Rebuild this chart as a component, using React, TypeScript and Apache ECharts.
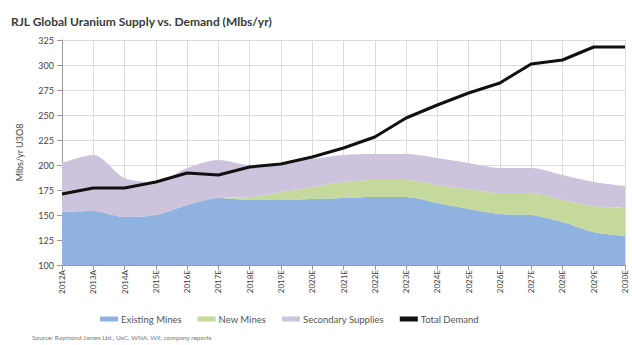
import React, { useEffect, useRef } from "react";
import * as echarts from "echarts";

const categories = [
  "2012A", "2013A", "2014A", "2015E", "2016E", "2017E", "2018E", "2019E", "2020E", "2021E",
  "2022E", "2023E", "2024E", "2025E", "2026E", "2027E", "2028E", "2029E", "2030E",
];
const existingMines = [153, 154, 148, 150, 160, 167, 165, 165, 166, 167, 168, 168, 162, 156, 151, 150, 143, 133, 129];
const newMines = [0, 0, 0, 0, 0, 0, 3, 8, 12, 16, 17, 17, 18, 20, 21, 22, 22, 26, 28];
const secondarySupplies = [49, 56, 39, 33, 37, 38, 32, 29, 28, 27, 26, 26, 27, 26, 25, 25, 25, 24, 22];
const totalDemand = [171, 177, 177, 183, 192, 190, 198, 201, 208, 217, 228, 247, 260, 272, 282, 301, 305, 318, 318];

const FONT = "Lato, 'Open Sans', sans-serif";

export default function App() {
  const ref = useRef<HTMLDivElement>(null);
  useEffect(() => {
    if (!ref.current) return;
    const chart = echarts.init(ref.current, null, { renderer: "svg" });
    const areaSeries = (name: string, data: number[], color: string) => ({
      name,
      type: "line",
      stack: "supply",
      data,
      smooth: 0.3,
      showSymbol: false,
      symbol: "none",
      lineStyle: { width: 0, color },
      itemStyle: { color },
      areaStyle: { color, opacity: 1 },
    });
    chart.setOption({
      animation: false,
      textStyle: { fontFamily: FONT },
      title: {
        text: "RJL Global Uranium Supply vs. Demand (Mlbs/yr)",
        left: 6,
        top: 10,
        textStyle: { fontSize: 12, fontWeight: "bold", color: "#3a3a3a", fontFamily: FONT },
      },
      grid: { left: 62, right: 7, top: 40, bottom: 80 },
      legend: {
        top: 309,
        left: 95,
        itemWidth: 18,
        itemHeight: 5,
        itemGap: 16,
        icon: "rect",
        textStyle: { fontSize: 9.5, color: "#555", fontFamily: FONT, padding: [0, 0, 0, -2] },
        data: ["Existing Mines", "New Mines", "Secondary Supplies", "Total Demand"],
      },
      xAxis: {
        type: "category",
        data: categories,
        boundaryGap: false,
        axisLine: { lineStyle: { color: "#999" } },
        axisTick: { show: true, lineStyle: { color: "#999" } },
        splitLine: { show: true, lineStyle: { color: "#dcdcdc" } },
        axisLabel: { rotate: 90, fontSize: 8, color: "#444", fontFamily: FONT, margin: 5 },
      },
      yAxis: {
        type: "value",
        min: 100,
        max: 325,
        interval: 25,
        name: "Mlbs/yr U3O8",
        nameLocation: "middle",
        nameGap: 38,
        nameTextStyle: { fontSize: 9, color: "#444", fontFamily: FONT },
        axisLine: { show: true, lineStyle: { color: "#999" } },
        axisTick: { show: true, lineStyle: { color: "#999" } },
        splitLine: { show: true, lineStyle: { color: "#dcdcdc" } },
        axisLabel: { fontSize: 9, color: "#444", fontFamily: FONT },
      },
      series: [
        areaSeries("Existing Mines", existingMines, "#8fb2e0"),
        areaSeries("New Mines", newMines, "#c5d99c"),
        areaSeries("Secondary Supplies", secondarySupplies, "#cdc3dd"),
        {
          name: "Total Demand",
          type: "line",
          data: totalDemand,
          showSymbol: false,
          symbol: "none",
          lineStyle: { width: 3, color: "#111" },
          itemStyle: { color: "#111" },
          z: 5,
        },
      ],
      graphic: [
        {
          type: "text",
          left: 32,
          top: 334,
          style: {
            text: "Source: Raymond James Ltd., UxC, WNA, WII, company reports",
            fontSize: 6.5,
            fill: "#777",
            fontFamily: FONT,
          },
        },
      ],
    });
    return () => chart.dispose();
  }, []);
  return <div ref={ref} style={{ width: 632, height: 345, position: "absolute", left: 0, top: 0 }} />;
}
